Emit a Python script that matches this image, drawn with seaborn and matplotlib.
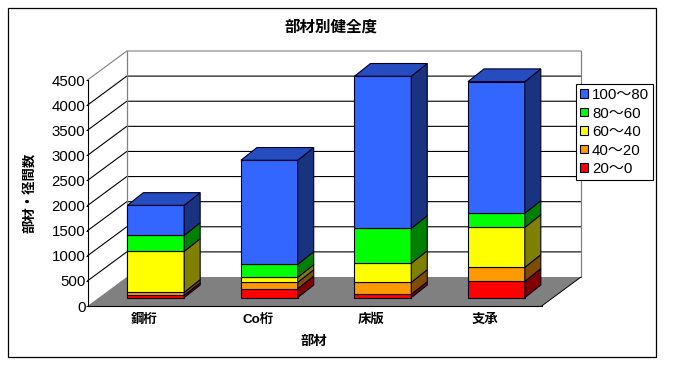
'''
This script recreates the stacked pseudo 3D bar chart of member soundness
'''

import seaborn           as sns
import matplotlib.pyplot as plt
from matplotlib.patches import Polygon, Rectangle

# ----------------------
members = ['鋼桁', 'Co桁', '床版', '支承']
bands   = ['20～0', '40～20', '60～40', '80～60', '100～80']

val_red    = [  46, 179,   66,  325]
val_orange = [  60, 126,  239,  279]
val_yellow = [ 817, 100,  379,  796]
val_green  = [ 318, 259,  697,  280]
val_blue   = [ 598, 2073, 3029, 2623]

colors_front = ['#FF0000', '#FF9900', '#FFFF00', '#00FF00', '#3366FF']
colors_side  = ['#800000', '#804D00', '#808000', '#008000', '#1A3380']
color_top    = '#264DBF'

y_ticks = list(range(0, 5000, 500))
# ----------------------
WIDTH, HEIGHT = 674, 365
AX_X0, AX_X1  = 87.5, 541.7
AX_Y0, AX_Y1  = 306.0, 80.0
# Depth vectors in pixels: floor, gap to bar front, bar itself
FLOOR_DX, FLOOR_DY = 39.3, 29.0
GAP_DX  , GAP_DY   = 11.5,  8.3
BAR_DX  , BAR_DY   = 16.0, 12.7

PX_X = 4 / (AX_X1 - AX_X0)
PX_Y = 4500 / (AX_Y0 - AX_Y1)
# ----------------------
def _add_walls(ax) -> None:
    '''
    Draws back wall, side wall and floor behind the bars
    '''
    dx, dy = FLOOR_DX * PX_X, FLOOR_DY * PX_Y
    x0, x1 = -0.5, 3.5

    floor = [(x0, 0), (x1, 0), (x1 + dx, dy), (x0 + dx, dy)]
    ax.add_patch(Polygon(floor, closed=True, fc='#808080', ec='none', zorder=0.6, clip_on=False))

    for tick in y_ticks[1:]:
        color = '#808080' if tick == y_ticks[-1] else 'black'
        ax.plot([x0, x0 + dx, x1 + dx], [tick, tick + dy, tick + dy], color=color, lw=0.8, zorder=0.5, clip_on=False)

    ax.plot([x0 + dx, x0 + dx], [dy, 4500 + dy], color='#808080', lw=0.9, zorder=0.5, clip_on=False)
    ax.plot([x1 + dx, x1 + dx], [dy, 4500 + dy], color='#808080', lw=0.9, zorder=0.5, clip_on=False)
    ax.plot([x1, x1 + dx], [0, dy], color='black', lw=0.7, zorder=0.7, clip_on=False)
# ----------------------
def _plot_bars(ax) -> None:
    '''
    Stacks one seaborn bar layer per band, then adds side and top faces
    '''
    series = [val_red, val_orange, val_yellow, val_green, val_blue]
    bottom = [0, 0, 0, 0]
    for band, values, color in zip(bands, series, colors_front):
        sns.barplot(x=members, y=values, bottom=bottom, color=color, saturation=1, width=0.5,
                    edgecolor='#000020', linewidth=0.8, label=band, errorbar=None, ax=ax)
        bottom = [b + v for b, v in zip(bottom, values)]

    gap_x, gap_y = GAP_DX * PX_X, GAP_DY * PX_Y
    dep_x, dep_y = BAR_DX * PX_X, BAR_DY * PX_Y
    for i_band, container in enumerate(ax.containers):
        for rect in container:
            rect.set_x(rect.get_x() + gap_x)
            rect.set_y(rect.get_y() + gap_y)
            rect.set_zorder(3)
            rect.set_clip_on(False)

            x0, y0 = rect.get_x(), rect.get_y()
            x1, y1 = x0 + rect.get_width(), y0 + rect.get_height()
            side = [(x1, y0), (x1 + dep_x, y0 + dep_y), (x1 + dep_x, y1 + dep_y), (x1, y1)]
            ax.add_patch(Polygon(side, closed=True, fc=colors_side[i_band], ec='#000020', lw=0.8, zorder=3, clip_on=False))
            if i_band == len(bands) - 1:
                top = [(x0, y1), (x1, y1), (x1 + dep_x, y1 + dep_y), (x0 + dep_x, y1 + dep_y)]
                ax.add_patch(Polygon(top, closed=True, fc=color_top, ec='#000020', lw=0.8, zorder=3, clip_on=False))
# ----------------------
def _format_axes(fig, ax) -> None:
    '''
    Ticks, labels, legend and outer frame
    '''
    ax.set_xlim(-0.5, 3.5)
    ax.set_ylim(0, 4500)
    ax.set_yticks(y_ticks)
    ax.set_xticks([0.5, 1.5, 2.5, 3.5], minor=True)
    ax.tick_params(axis='x', which='major', length=0, pad=5.5, labelsize=9.6)
    ax.tick_params(axis='x', which='minor', length=4, width=0.7, direction='in', color='black')
    ax.tick_params(axis='y', which='major', length=1.5, width=0.7, color='black', pad=0, labelsize=10.8, left=True)
    for label in ax.get_xticklabels():
        label.set_fontweight('bold')

    sns.despine(ax=ax)
    for name in ['left', 'bottom']:
        ax.spines[name].set_color('black')
        ax.spines[name].set_linewidth(0.8)
    ax.patch.set_alpha(0)

    ax.set_xlabel('')
    ax.set_ylabel('')
    fig.text(331 / WIDTH, 1 - 27 / HEIGHT, '部材別健全度', ha='center', va='center', fontsize=11.2, fontweight='bold')
    fig.text(314 / WIDTH, 1 - 342 / HEIGHT, '部材', ha='center', va='center', fontsize=9.6, fontweight='bold')
    fig.text(30 / WIDTH, 1 - 193 / HEIGHT, '部材・径間数', ha='center', va='center', rotation=90, fontsize=9.6, fontweight='bold')

    handles, labels = ax.get_legend_handles_labels()
    leg = ax.legend(handles[::-1], labels[::-1], loc='upper left', bbox_to_anchor=(576.3 / WIDTH, 1 - 84.3 / HEIGHT),
                    bbox_transform=fig.transFigure, borderaxespad=0, fancybox=False, framealpha=1, edgecolor='black',
                    fontsize=10.8, handlelength=0.5, handleheight=0.5, handletextpad=0.3, labelspacing=0.3,
                    borderpad=0.25)
    leg.get_frame().set_linewidth(0.8)
    leg.set_zorder(5)

    fig.add_artist(Rectangle((7.5 / WIDTH, 1 - 357 / HEIGHT), 648.5 / WIDTH, 349.5 / HEIGHT, fill=False,
                             ec='black', lw=0.9, transform=fig.transFigure))
# ----------------------
def main():
    '''
    Entry point
    '''
    sns.set_theme(style='white')
    plt.rcParams['font.family'] = ['Liberation Sans', 'Noto Sans CJK JP', 'DejaVu Sans']
    plt.rcParams['text.color'] = 'black'
    plt.rcParams['xtick.labelcolor'] = 'black'
    plt.rcParams['ytick.labelcolor'] = 'black'

    fig = plt.figure(figsize=(WIDTH / 100, HEIGHT / 100), dpi=100, facecolor='white')
    ax  = fig.add_axes([AX_X0 / WIDTH, 1 - AX_Y0 / HEIGHT, (AX_X1 - AX_X0) / WIDTH, (AX_Y0 - AX_Y1) / HEIGHT])

    _plot_bars(ax)
    _add_walls(ax)
    _format_axes(fig, ax)

    fig.savefig('out.png', dpi=100)
    plt.close(fig)
# ----------------------
if __name__ == '__main__':
    main()
